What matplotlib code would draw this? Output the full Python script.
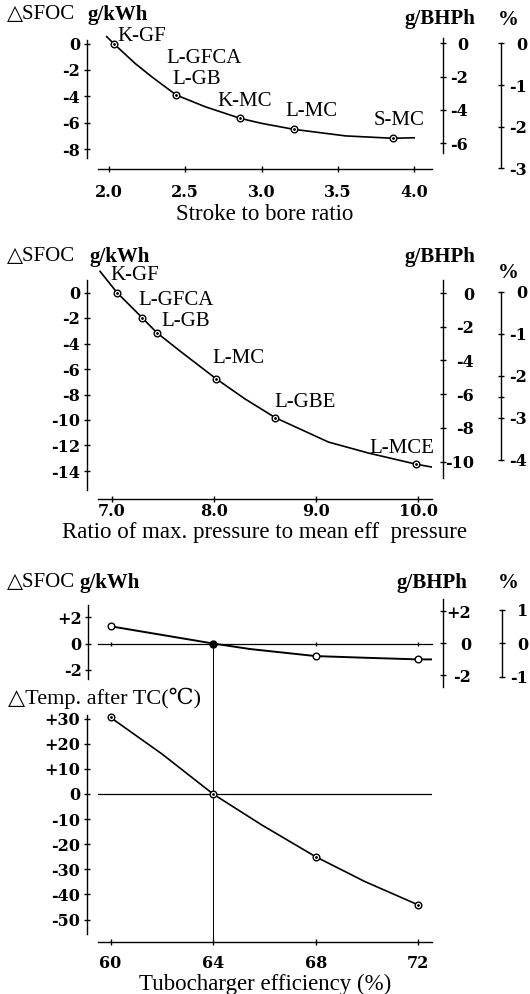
import matplotlib.pyplot as plt

plt.rcParams['font.family'] = ['Liberation Serif', 'DejaVu Serif', 'DejaVu Sans']
plt.rcParams['axes.linewidth'] = 1.0

W, H = 530, 994
PT = 72 / 100  # points per pixel at dpi 100

# ---- 1) stroke to bore ratio ----
sb_x = [2.03, 2.44, 2.86, 3.21, 3.86]
sb_y = [0.0, -3.9, -5.67, -6.5, -7.18]
sb_curve_x = [1.985, 2.03, 2.17, 2.28, 2.44, 2.63, 2.86, 3.0, 3.21, 3.55, 3.86, 4.0]
sb_curve_y = [0.52, 0.0, -1.5, -2.52, -3.9, -4.79, -5.67, -6.05, -6.5, -7.0, -7.18, -7.14]
sb_names = ["K-GF", "L-GFCA", "L-GB", "K-MC", "L-MC", "S-MC"]
sb_name_pt = [0, 1, 1, 2, 3, 4]
sb_xticks = [2.0, 2.5, 3.0, 3.5, 4.0]

# ---- 2) max pressure / mean effective pressure ----
pr_x = [7.05, 7.30, 7.44, 8.02, 8.60, 9.98]
pr_y = [0.0, -2.0, -3.15, -6.76, -9.82, -13.47]
pr_curve_x = [6.885, 7.05, 7.30, 7.44, 7.68, 8.02, 8.30, 8.60, 9.12, 9.51, 9.98, 10.13]
pr_curve_y = [1.66, 0.0, -2.0, -3.15, -4.67, -6.76, -8.33, -9.82, -11.73, -12.59, -13.47, -13.69]
pr_names = ["K-GF", "L-GFCA", "L-GB", "L-MC", "L-GBE", "L-MCE"]
pr_xticks = [7.0, 8.0, 9.0, 10.0]

# ---- 3) turbocharger efficiency ----
eff = [60, 64, 68, 72]
eff_sfoc = [1.3, 0.0, -0.95, -1.2]
eff_sfoc_curve_x = [60, 64, 65.45, 68, 70.0, 72, 72.5]
eff_sfoc_curve_y = [1.3, 0.0, -0.42, -0.95, -1.08, -1.2, -1.2]
eff_temp = [30.5, 0.0, -25.0, -44.2]
eff_temp_curve_x = [60, 62.0, 64, 65.9, 68, 69.92, 72]
eff_temp_curve_y = [30.5, 16.0, 0.0, -12.35, -25.0, -34.9, -44.2]

fig = plt.figure(figsize=(W / 100, H / 100), dpi=100)

NUM = dict(family=['DejaVu Serif'], fontsize=11.5, fontweight='bold')


def box(x0, x1, top, bot):
    ax = fig.add_axes([x0 / W, 1 - bot / H, (x1 - x0) / W, (bot - top) / H])
    ax.patch.set_visible(False)
    return ax


def ylim_px(top, bot, zero_px, ppu):
    return (-(bot - zero_px) / ppu, (zero_px - top) / ppu)


def xlim_px(x0, x1, ref_px, ref_val, ppu):
    return (ref_val - (ref_px - x0) / ppu, ref_val + (x1 - ref_px) / ppu)


def style_labels(labels):
    for t in labels:
        t.set_fontfamily(NUM['family'])
        t.set_fontsize(NUM['fontsize'])
        t.set_fontweight(NUM['fontweight'])


def main_axes(top, bot, zero_px, ppu, xref, yticks, ylabels, ybounds, spine_x=86.5):
    x0, x1 = 98, 432
    ax = box(x0, x1, top, bot)
    ax.set_xlim(*xlim_px(x0, x1, *xref))
    ax.set_ylim(*ylim_px(top, bot, zero_px, ppu))
    ax.spines['top'].set_visible(False)
    ax.spines['right'].set_visible(False)
    ax.spines['left'].set_position(('outward', (x0 - spine_x) * PT))
    ax.spines['left'].set_bounds(*ybounds)
    ax.set_yticks(yticks, ylabels)
    ax.tick_params(axis='y', direction='inout', length=5, width=1, pad=2)
    ax.tick_params(axis='x', direction='inout', length=5, width=1)
    style_labels(ax.get_yticklabels())
    return ax


def scale_axis(x_px, top, bot, zero_px, ppu, ticks, labels, bounds, right_px, minor=None):
    ax = box(x_px - 2, x_px, top, bot)
    ax.set_ylim(*ylim_px(top, bot, zero_px, ppu))
    ax.set_xticks([])
    for s in ['top', 'bottom', 'left']:
        ax.spines[s].set_visible(False)
    ax.spines['right'].set_bounds(*bounds)
    ax.yaxis.tick_right()
    ax.set_yticks(ticks, labels)
    if minor:
        ax.set_yticks(minor, minor=True)
    pad = (right_px - x_px - 3.5) * PT
    ax.tick_params(axis='y', which='both', direction='inout', length=5, width=1, pad=pad)
    ax.tick_params(axis='y', which='minor', length=4)
    style_labels(ax.get_yticklabels())
    for t in ax.get_yticklabels():
        t.set_horizontalalignment('right')
    return ax


def points(ax, cx, cy, px, py):
    ax.plot(cx, cy, color='black', lw=1.2)
    ax.plot(px, py, ls='none', marker='o', ms=4.8, mfc='white', mec='black', mew=1.0)
    ax.plot(px, py, ls='none', marker='o', ms=1.0, color='black')


def names(ax, txt, xs, ys, offs):
    for t, x, y, (dx, dy) in zip(txt, xs, ys, offs):
        ax.annotate(t, (x, y), xytext=(dx * PT, dy * PT), textcoords='offset points',
                    ha='left', va='center', fontsize=15)


def header(y, y_bhp, y_pct, gx, bhp_x=440):
    fig.text(7 / W, 1 - y / H, "△SFOC", ha='left', va='center', fontsize=15)
    fig.text(gx / W, 1 - y / H, "g/kWh", ha='left', va='center', fontsize=15, fontweight='bold')
    fig.text(bhp_x / W, 1 - y_bhp / H, "g/BHPh", ha='center', va='center', fontsize=15, fontweight='bold')
    fig.text(508 / W, 1 - y_pct / H, "%", ha='center', va='center', fontsize=15, fontweight='bold')


# ================= panel 1 =================
ax1 = main_axes(30, 168.5, 43.5, 13.2, (109, 2.0, 152.6),
                [0, -2, -4, -6, -8], ["0", "-2", "-4", "-6", "-8"], (0.23, -8.64))
ax1.set_xticks(sb_xticks, [f"{v:.1f}" for v in sb_xticks])
ax1.tick_params(axis='x', pad=9)
style_labels(ax1.get_xticklabels())
points(ax1, sb_curve_x, sb_curve_y, sb_x, sb_y)
names(ax1, sb_names, [sb_x[i] for i in sb_name_pt], [sb_y[i] for i in sb_name_pt],
      [(3.4, 7.3), (-10, 36.7), (-3.4, 15), (-23.3, 16.6), (-8.3, 17.6), (-19, 17.6)])
ax1.set_xlabel("Stroke to bore ratio", fontsize=16.5, labelpad=2)
scale_axis(442.7, 30, 175, 43.3, 16.67, [0, -2, -4, -6], ["0", "-2", "-4", "-6"], (0.32, -6.57), 468)
scale_axis(500.7, 30, 175, 43.3, 41.7, [0, -1, -2, -3], ["0", "-1", "-2", "-3"], (0, -3), 527)
header(15, 19, 20, 88)

# ================= panel 2 =================
ax2 = main_axes(262, 499, 292.5, 12.75, (111.8, 7.0, 102.2),
                list(range(0, -15, -2)), ["0", "-2", "-4", "-6", "-8", "-10", "-12", "-14"],
                (1.0, -15.5))
ax2.set_xticks(pr_xticks, [f"{v:.1f}" for v in pr_xticks])
ax2.tick_params(axis='x', pad=0.5)
style_labels(ax2.get_xticklabels())
points(ax2, pr_curve_x, pr_curve_y, pr_x, pr_y)
names(ax2, pr_names, pr_x, pr_y,
      [(-6.7, 17.4), (-4, 17.7), (5, 10.7), (-4, 20), (-0.7, 15.7), (-46.7, 15.6)])
ax2.set_xlabel("Ratio of max. pressure to mean eff  pressure", fontsize=16.5, labelpad=1)
scale_axis(442.7, 262, 499, 293, 16.85, [0, -2, -4, -6, -8, -10],
           ["0", "-2", "-4", "-6", "-8", "-10"], (0.77, -10.98), 474)
scale_axis(500.7, 262, 499, 291.7, 42, [0, -1, -2, -3, -4],
           ["0", "-1", "-2", "-3", "-4"], (0, -4), 527, minor=[-2.5])
header(257, 257, 273, 90)

# ================= panel 3 (SFOC vs TC efficiency) =================
ax3 = main_axes(595, 680, 643.5, 13.25, (110.5, 60, 25.65),
                [2, 0, -2], ["+2", "0", "-2"], (2.9, -2.7), spine_x=88)
ax3.spines['bottom'].set_position(('data', 0))
ax3.spines['bottom'].set_linewidth(0.9)
ax3.set_xticks(eff, [])
ax3.tick_params(axis='x', length=3)
ax3.plot(eff_sfoc_curve_x, eff_sfoc_curve_y, color='black', lw=1.4)
ax3.plot(eff[0::2] + eff[3:], [eff_sfoc[0], eff_sfoc[2], eff_sfoc[3]], ls='none', marker='o',
         ms=4.8, mfc='white', mec='black', mew=1.0)
ax3.plot(eff[1], eff_sfoc[1], ls='none', marker='o', ms=5, color='black')
scale_axis(442.7, 595, 690, 643.3, 16.0, [2, 0, -2], ["+2", "0", "-2"], (2.8, -2.7), 471)
scale_axis(501.5, 595, 690, 643.3, 33.3, [1, 0, -1], ["1", "0", "-1"], (1, -1), 528)
header(583, 583, 583, 80, bhp_x=432)

# ================= panel 4 (temperature after TC) =================
ax4 = main_axes(643.5, 942.3, 794, 2.51, (110.5, 60, 25.65),
                list(range(30, -60, -10)),
                ["+30", "+20", "+10", "0", "-10", "-20", "-30", "-40", "-50"], (31.3, -55.7))
ax4.set_xticks(eff, [str(v) for v in eff])
ax4.tick_params(axis='x', pad=7)
style_labels(ax4.get_xticklabels())
ax4.axhline(0, color='black', lw=0.9)
ax4.axvline(64, color='black', lw=0.7)
points(ax4, eff_temp_curve_x, eff_temp_curve_y, eff, eff_temp)
ax4.set_xlabel("Tubocharger efficiency (%)", fontsize=16.5, labelpad=1)
fig.text(8 / W, 1 - 698 / H, "△Temp. after TC(℃)", ha='left', va='center', fontsize=16)

fig.savefig("out.png", dpi=100)
